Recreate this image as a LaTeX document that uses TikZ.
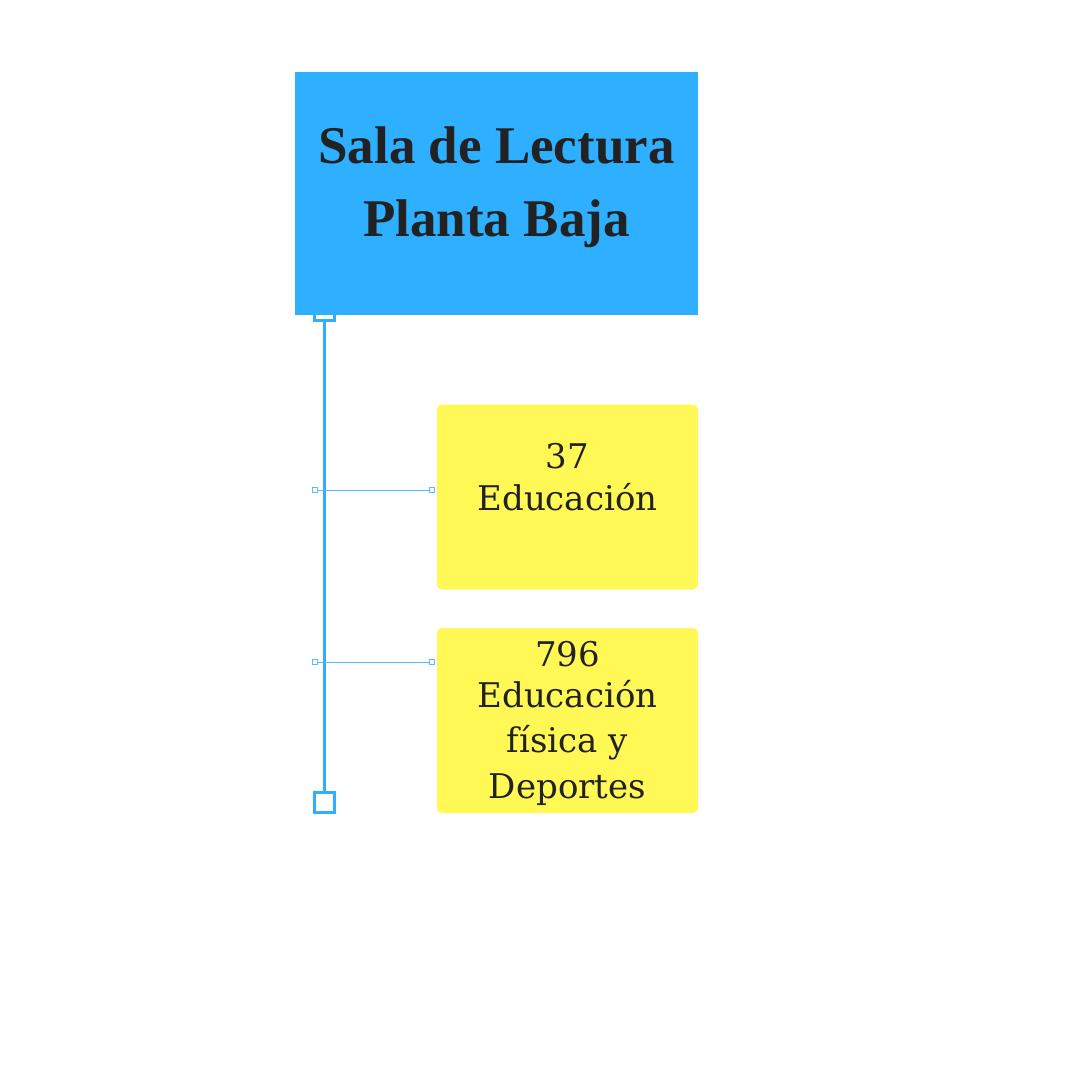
\documentclass[tikz,border=0pt]{standalone}
\usepackage{fontspec}
\setmainfont{Liberation Serif}
\newfontfamily\bodyfont{DejaVu Serif}
\begin{document}
\begin{tikzpicture}[x=1pt,y=-1pt,
  bluebox/.style={fill=skyblue,draw=none,minimum width=403pt,minimum height=243pt,inner sep=0pt},
  yelbox/.style={fill=lemon,draw=none,rounded corners=5pt,minimum width=261pt,minimum height=185pt,inner sep=0pt},
  bigsq/.style={draw=skyblue,line width=3pt,fill=white,minimum size=20pt,inner sep=0pt},
  tinysq/.style={draw=lightsky,line width=0.8pt,fill=white,minimum size=5pt,inner sep=0pt},
  title/.style={font=\fontsize{53}{73}\selectfont\bfseries,text=ink,align=center},
  body/.style={font=\bodyfont\fontsize{34}{44}\selectfont,text=ink,align=center}]
\definecolor{skyblue}{HTML}{2EAFFF}
\definecolor{lightsky}{HTML}{55BDFF}
\definecolor{lemon}{HTML}{FFF855}
\definecolor{ink}{HTML}{222222}
\useasboundingbox (0,0) rectangle (1080,1080);
\fill[white] (0,0) rectangle (1080,1080);
% trunk
\node[bigsq] (top) at (324,310) {};
\node[bigsq] (bot) at (324,802) {};
\draw[skyblue,line width=3pt] (top.south) -- (bot.north);
% main box
\node[bluebox] (main) at (496.5,193.5) {};
\node[title,anchor=base] (t1) at (496.5,163) {Sala de Lectura};
\node[title,anchor=base] (t2) at (496.5,236) {Planta Baja};
% yellow boxes
\node[yelbox] (y1) at (567.5,497) {};
\node[yelbox] (y2) at (567.5,720.5) {};
\node[body,anchor=base] (y1a) at (567.5,468) {37};
\node[body,anchor=base] (y1b) at (567.5,510) {Educación};
\node[body,anchor=base] (y2a) at (567.5,666) {796};
\node[body,anchor=base] (y2b) at (567.5,707) {Educación};
\node[body,anchor=base] (y2c) at (567.5,752) {física y};
\node[body,anchor=base] (y2d) at (567.5,798) {Deportes};
% branches
\node[tinysq] (b1l) at (315,490) {};
\node[tinysq] (b1r) at (432,490) {};
\draw[lightsky,line width=0.8pt] (b1l.east) -- (b1r.west);
\node[tinysq] (b2l) at (315,662) {};
\node[tinysq] (b2r) at (432,662) {};
\draw[lightsky,line width=0.8pt] (b2l.east) -- (b2r.west);
\end{tikzpicture}
\end{document}
